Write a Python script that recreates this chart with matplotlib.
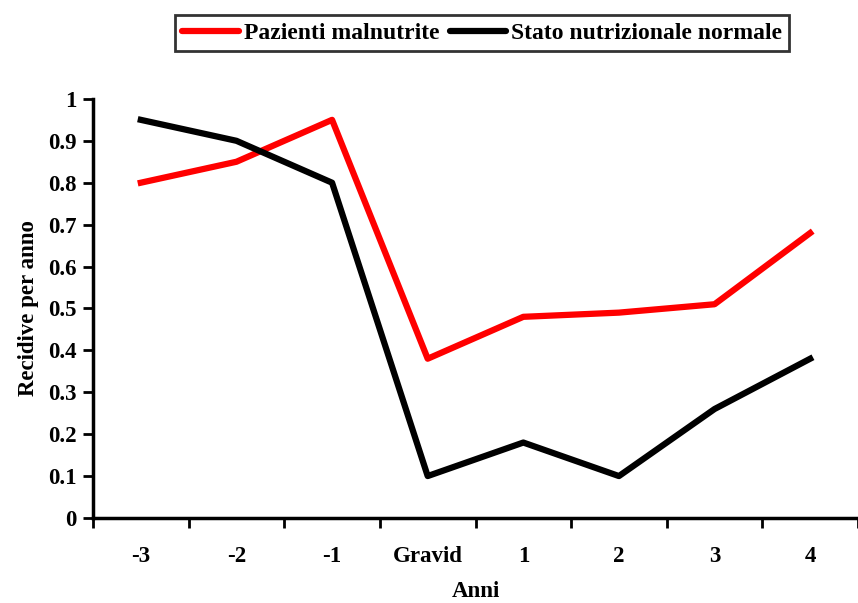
import matplotlib.pyplot as plt
import numpy as np

categories = ['-3', '-2', '-1', 'Gravid', '1', '2', '3', '4']
malnutrite = [0.80, 0.85, 0.95, 0.38, 0.48, 0.49, 0.51, 0.68]
normale = [0.95, 0.90, 0.80, 0.10, 0.18, 0.10, 0.26, 0.38]

plt.rcParams['font.family'] = 'Liberation Serif'
plt.rcParams['font.weight'] = 'bold'

fig = plt.figure(figsize=(8.58, 6.03), dpi=100)
ax = fig.add_axes([0.1084, 0.141, 0.8916, 0.695])

x = np.arange(len(categories))
ax.plot(x, malnutrite, color='#ff0000', lw=4.5, label='Pazienti malnutrite')
ax.plot(x, normale, color='black', lw=4.5, label='Stato nutrizionale normale')

ax.set_xlim(-0.5, 7.386)
ax.set_ylim(0, 1)
ax.set_yticks(np.arange(0, 1.01, 0.1))
ax.set_yticklabels(['0', '0.1', '0.2', '0.3', '0.4', '0.5', '0.6', '0.7', '0.8', '0.9', '1'])
ax.set_xticks(x)
ax.set_xticklabels(categories)
ax.set_xticks(np.arange(-0.5, 8, 1), minor=True)
ax.tick_params(axis='x', which='major', length=0, pad=20, labelsize=16.5)
ax.tick_params(axis='x', which='minor', length=7, width=2, direction='out')
ax.tick_params(axis='y', length=7, width=2, direction='out', labelsize=16.5, pad=5)

for s in ['top', 'right']:
    ax.spines[s].set_visible(False)
for s in ['left', 'bottom']:
    ax.spines[s].set_linewidth(2.5)

ax.set_xlabel('Anni', fontsize=16.5, fontweight='bold', labelpad=10)
ax.set_ylabel('Recidive per anno', fontsize=16.5, fontweight='bold', labelpad=6)

leg = fig.legend(loc='center', bbox_to_anchor=(0.562, 0.945), ncol=2, fontsize=17,
                 frameon=True, fancybox=False, edgecolor='black', handlelength=2.4,
                 columnspacing=0.45, handletextpad=0.2, borderpad=0.3)
leg.get_frame().set_linewidth(2)
for line in leg.get_lines():
    line.set_solid_capstyle('round')

plt.savefig('out.png', dpi=100)
